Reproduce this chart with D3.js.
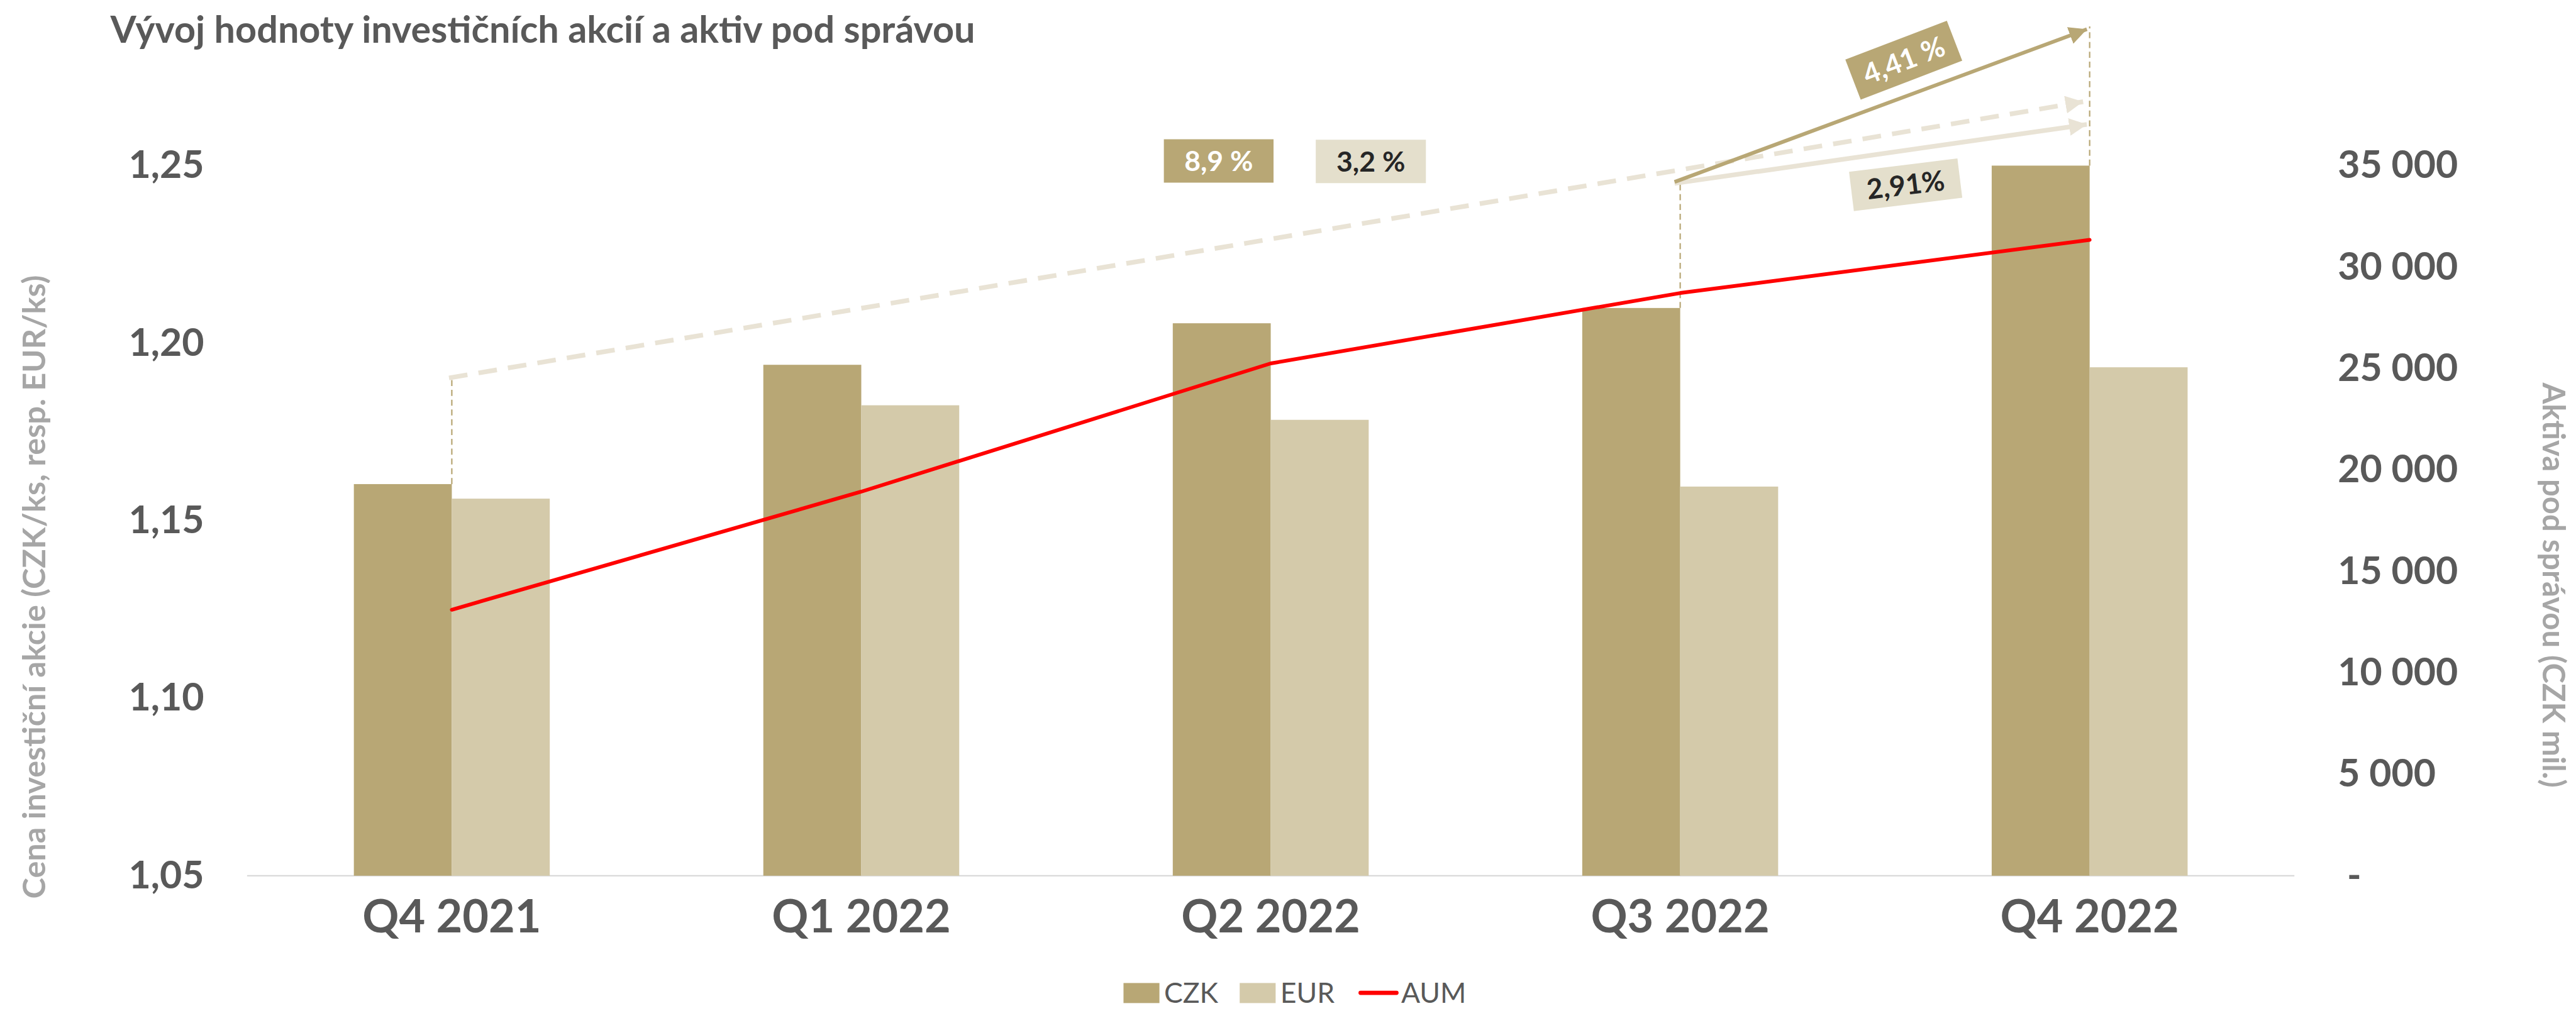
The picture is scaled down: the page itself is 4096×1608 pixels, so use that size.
<!DOCTYPE html>
<html>
<head>
<meta charset="utf-8">
<script src="https://cdn.jsdelivr.net/npm/d3@7"></script>
<style>
  html, body { margin: 0; padding: 0; background: #fff; }
  svg { display: block; }
  text { font-family: Lato, "Open Sans", sans-serif; }
</style>
</head>
<body>
<svg id="chart" width="4096" height="1608" viewBox="0 0 5519 2167"></svg>
<script>
// Chart data
const categories = ["Q4 2021", "Q1 2022", "Q2 2022", "Q3 2022", "Q4 2022"];
const seriesNames = ["CZK", "EUR"];
const czkValues = [1.1603, 1.1939, 1.2056, 1.2099, 1.2633];
const eurValues = [1.1562, 1.1825, 1.1784, 1.1596, 1.1932];
const aumValues = [13110, 18930, 25250, 28720, 31340];
const leftTicks = [1.05, 1.10, 1.15, 1.20, 1.25];
const rightTicks = [0, 5000, 10000, 15000, 20000, 25000, 30000, 35000];
const growthLabels = ["8,9 %", "3,2 %", "4,41 %", "2,91%"];

document.addEventListener('DOMContentLoaded', function () {

    const svg = d3.select("#chart");

    // colours
    const cCzk = "#B8A775",
        cEur = "#D4CAAA",
        cEurLight = "#E9E3D5",
        cEurBox = "#E4DFCC",
        cText = "#595959",
        cAxisTitle = "#A6A6A6",
        cRed = "#FF0000";

    // plot area in reference pixel units (viewBox)
    const plot = { left: 529, right: 4916, top: 355, bottom: 1877 };

    const x = d3.scaleBand()
        .domain(categories)
        .range([plot.left, plot.right])
        .paddingInner(0).paddingOuter(0);

    const xs = d3.scaleBand()
        .domain(seriesNames)
        .range([0, x.bandwidth()])
        .paddingInner(0).paddingOuter(1.09);

    const center = c => x(c) + x.bandwidth() / 2;

    // left axis: price per share (bars clipped at the top like Excel does)
    const y = d3.scaleLinear().domain([1.05, 1.25]).range([plot.bottom, plot.top]).clamp(true);
    const yA = y.copy().clamp(false);   // for annotations above the plot
    // right axis: assets under management
    const yR = d3.scaleLinear().domain([0, 35000]).range([plot.bottom, plot.top]);

    const czLocale = d3.formatLocale({ decimal: ",", thousands: "\u00a0", grouping: [3], currency: ["", ""] });
    const fmtLeft = czLocale.format(".2f");
    const fmtRight = czLocale.format(",.0f");

    // ==== Title ====
    svg.append("text")
        .attr("x", 236).attr("y", 92)
        .attr("font-size", 80).attr("font-weight", 700)
        .attr("fill", cText)
        .text("Vývoj hodnoty investičních akcií a aktiv pod správou");

    // ==== Baseline ====
    svg.append("line")
        .attr("x1", plot.left).attr("x2", plot.right)
        .attr("y1", plot.bottom).attr("y2", plot.bottom)
        .attr("stroke", "#D9D9D9").attr("stroke-width", 3);

    // ==== Bars ====
    const rows = categories.map((c, i) => ({ cat: c, values: [czkValues[i], eurValues[i]] }));
    const barColor = d3.scaleOrdinal().domain(seriesNames).range([cCzk, cEur]);

    const groups = svg.append("g").selectAll("g")
        .data(rows).join("g")
        .attr("transform", d => `translate(${x(d.cat)},0)`);

    groups.selectAll("rect")
        .data(d => seriesNames.map((s, k) => ({ s, v: d.values[k] })))
        .join("rect")
        .attr("x", d => xs(d.s))
        .attr("width", xs.bandwidth())
        .attr("y", d => y(d.v))
        .attr("height", d => plot.bottom - y(d.v))
        .attr("fill", d => barColor(d.s));

    // ==== Axes ====
    const axisL = svg.append("g")
        .attr("transform", `translate(${plot.left},0)`)
        .call(d3.axisLeft(y).tickValues(leftTicks).tickSize(0).tickPadding(92).tickFormat(fmtLeft));
    axisL.select(".domain").remove();
    axisL.selectAll("text")
        .attr("font-size", 82).attr("font-weight", 700).attr("fill", cText)
        .attr("font-family", "Lato, 'Open Sans', sans-serif");

    const axisR = svg.append("g")
        .attr("transform", `translate(${plot.right},0)`)
        .call(d3.axisRight(yR).tickValues(rightTicks).tickSize(0).tickPadding(93)
            .tickFormat(d => d === 0 ? "-" : fmtRight(d)));
    axisR.select(".domain").remove();
    axisR.selectAll("text")
        .attr("font-size", 82).attr("font-weight", 700).attr("fill", cText)
        .attr("font-family", "Lato, 'Open Sans', sans-serif")
        .attr("dx", d => d === 0 ? 20 : 0);

    const axisX = svg.append("g")
        .attr("transform", `translate(0,${plot.bottom})`)
        .call(d3.axisBottom(x).tickSize(0).tickPadding(90));
    axisX.select(".domain").remove();
    axisX.selectAll("text")
        .attr("font-size", 97).attr("font-weight", 700).attr("fill", cText)
        .attr("font-family", "Lato, 'Open Sans', sans-serif")
        .attr("dy", "0.33em");

    // axis titles
    svg.append("text")
        .attr("transform", "translate(96,1258) rotate(-90)")
        .attr("text-anchor", "middle")
        .attr("font-size", 68).attr("font-weight", 700).attr("fill", cAxisTitle)
        .text("Cena investiční akcie (CZK/ks, resp. EUR/ks)");

    svg.append("text")
        .attr("transform", "translate(5448,1254) rotate(90)")
        .attr("text-anchor", "middle")
        .attr("font-size", 66).attr("font-weight", 700).attr("fill", cAxisTitle)
        .text("Aktiva pod správou (CZK mil.)");

    // ==== Annotation arrows ====
    const defs = svg.append("defs");
    function marker(id, color, size) {
        defs.append("marker")
            .attr("id", id)
            .attr("viewBox", "0 0 10 10")
            .attr("refX", 10).attr("refY", 5)
            .attr("markerUnits", "userSpaceOnUse")
            .attr("markerWidth", size).attr("markerHeight", size)
            .attr("orient", "auto")
            .append("path")
            .attr("d", "M0,0 L10,5 L0,10 z")
            .attr("fill", color);
    }
    marker("headCzk", cCzk, 38);
    marker("headEur", cEurLight, 38);

    const q0 = categories[0], q3 = categories[3], q4 = categories[4];
    const annoG = svg.append("g");

    // thin dotted verticals from the bars to the arrows
    const verticals = [
        { cat: q0, from: czkValues[0], to: 1.1902 },
        { cat: q3, from: czkValues[3], to: 1.2454 },
        { cat: q4, from: 1.25, to: 1.2892 }
    ];
    annoG.selectAll("line.vert")
        .data(verticals).join("line")
        .attr("class", "vert")
        .attr("x1", d => center(d.cat)).attr("x2", d => center(d.cat))
        .attr("y1", d => yA(d.from)).attr("y2", d => yA(d.to))
        .attr("stroke", cCzk).attr("stroke-width", 3)
        .attr("stroke-dasharray", "13,8");

    // year-on-year (dashed) and quarter-on-quarter arrows
    const arrows = [
        { x1: center(q0) - 6, y1: 1.1902, x2: center(q4) - 14, y2: 1.2680, color: cEurLight, w: 10, dash: "40,24", head: "headEur" },
        { x1: center(q3) - 12, y1: 1.2450, x2: center(q4) - 6, y2: 1.2616, color: cEurLight, w: 10, dash: null, head: "headEur" },
        { x1: center(q3) - 12, y1: 1.2454, x2: center(q4) - 6, y2: 1.2884, color: cCzk, w: 8, dash: null, head: "headCzk" }
    ];
    annoG.selectAll("line.arrow")
        .data(arrows).join("line")
        .attr("class", "arrow")
        .attr("x1", d => d.x1).attr("y1", d => yA(d.y1))
        .attr("x2", d => d.x2).attr("y2", d => yA(d.y2))
        .attr("stroke", d => d.color)
        .attr("stroke-width", d => d.w)
        .attr("stroke-dasharray", d => d.dash)
        .attr("marker-end", d => `url(#${d.head})`);

    // ==== AUM line ====
    const line = d3.line()
        .x((d, i) => center(categories[i]))
        .y(d => yR(d));

    svg.append("path")
        .datum(aumValues)
        .attr("d", line)
        .attr("fill", "none")
        .attr("stroke", cRed)
        .attr("stroke-width", 8)
        .attr("stroke-linecap", "round")
        .attr("stroke-linejoin", "round");

    // ==== Growth label boxes ====
    const boxes = [
        { text: growthLabels[0], cx: 2611, cy: 345, w: 235, h: 93, rot: 0, fill: cCzk, color: "#FFFFFF" },
        { text: growthLabels[1], cx: 2937, cy: 346, w: 236, h: 93, rot: 0, fill: cEurBox, color: "#262626" },
        { text: growthLabels[2], cx: 4079, cy: 129, w: 233, h: 92, rot: -21, fill: cCzk, color: "#FFFFFF" },
        { text: growthLabels[3], cx: 4083, cy: 396, w: 234, h: 85, rot: -7, fill: cEurBox, color: "#262626" }
    ];
    const boxG = svg.append("g").selectAll("g")
        .data(boxes).join("g")
        .attr("transform", d => `translate(${d.cx},${d.cy}) rotate(${d.rot})`);
    boxG.append("rect")
        .attr("x", d => -d.w / 2).attr("y", d => -d.h / 2)
        .attr("width", d => d.w).attr("height", d => d.h)
        .attr("fill", d => d.fill);
    boxG.append("text")
        .attr("text-anchor", "middle").attr("dy", "0.36em")
        .attr("font-size", 60).attr("font-weight", 700)
        .attr("fill", d => d.color)
        .text(d => d.text);

    // ==== Legend ====
    const legendItems = [
        { name: "CZK", type: "rect", color: cCzk, x: 2407 },
        { name: "EUR", type: "rect", color: cEur, x: 2656 },
        { name: "AUM", type: "line", color: cRed, x: 2912 }
    ];
    const legend = svg.append("g").attr("transform", "translate(0,2128)");
    const li = legend.selectAll("g").data(legendItems).join("g")
        .attr("transform", d => `translate(${d.x},0)`);
    li.filter(d => d.type === "rect").append("rect")
        .attr("x", 0).attr("y", -21).attr("width", 77).attr("height", 43)
        .attr("fill", d => d.color);
    li.filter(d => d.type === "line").append("line")
        .attr("x1", 3).attr("x2", 80).attr("y1", 0).attr("y2", 0)
        .attr("stroke", d => d.color).attr("stroke-width", 9)
        .attr("stroke-linecap", "round");
    li.append("text")
        .attr("x", d => d.type === "rect" ? 87 : 90)
        .attr("dy", "0.36em")
        .attr("font-size", 60).attr("fill", cText)
        .text(d => d.name);
});
</script>
</body>
</html>
